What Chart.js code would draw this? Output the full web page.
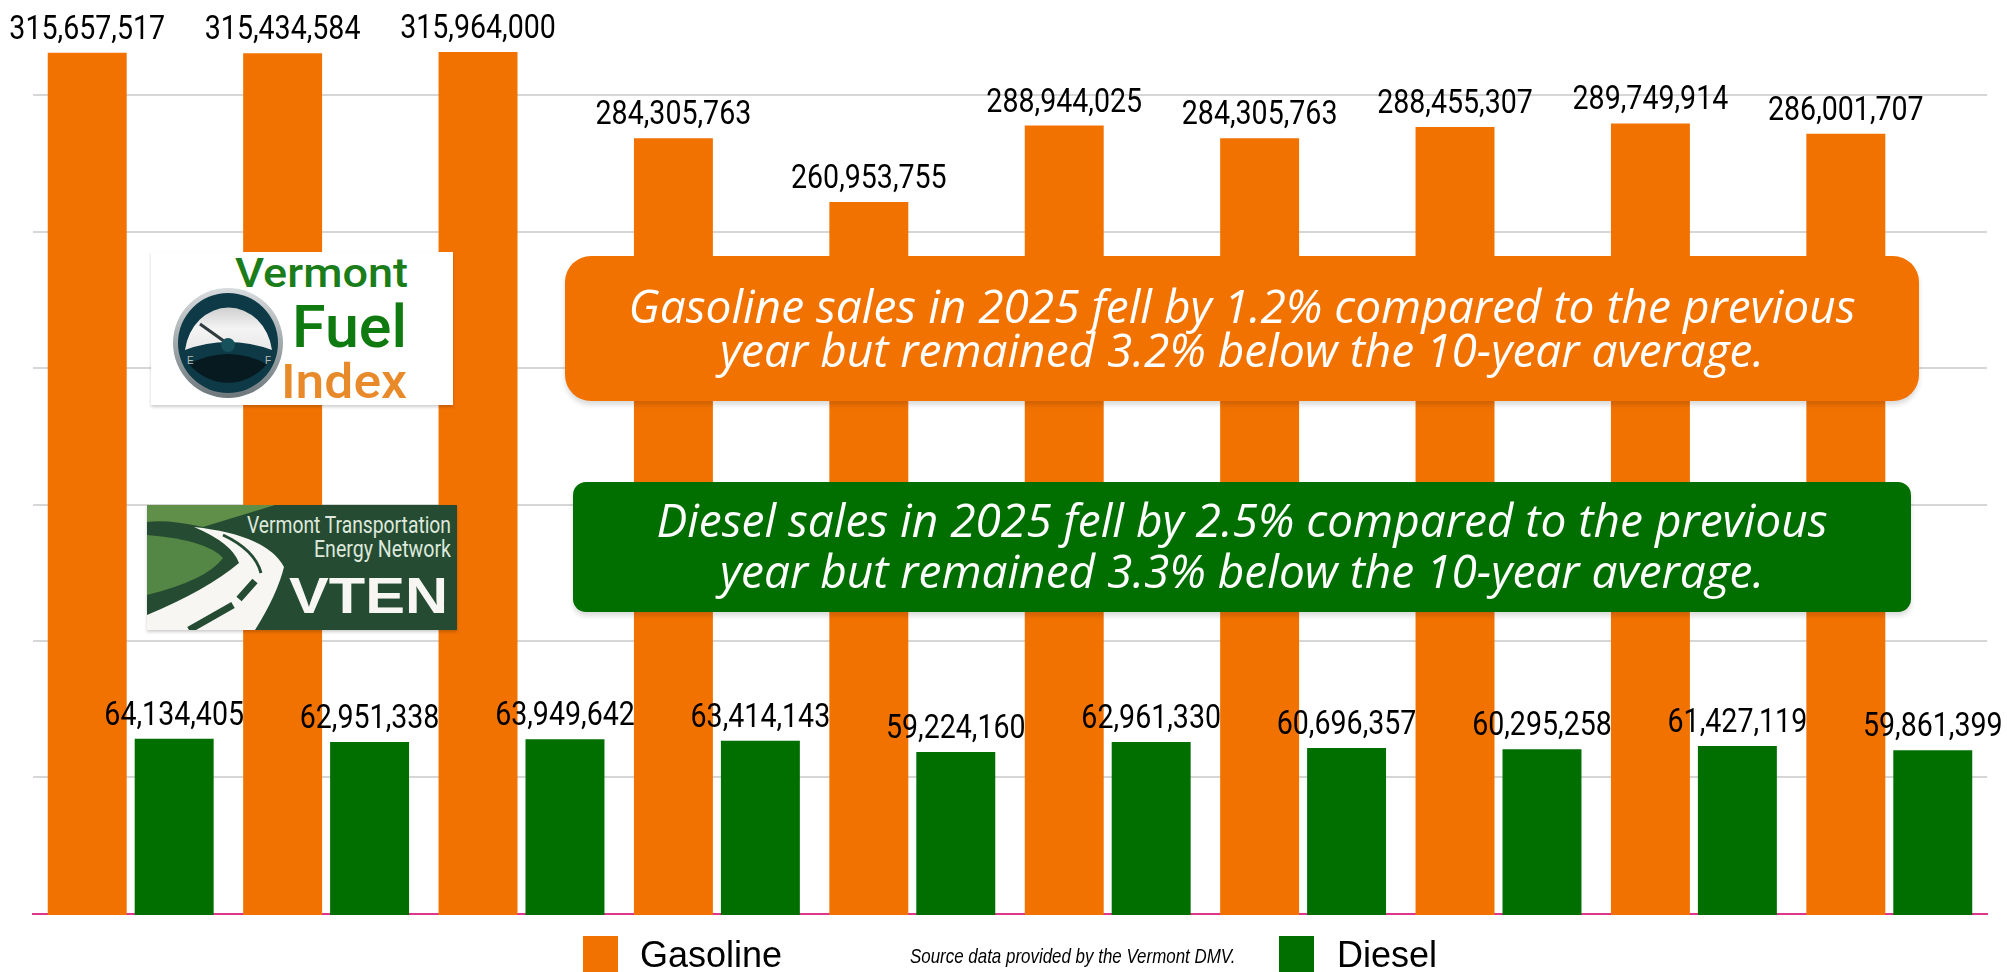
<!DOCTYPE html>
<html><head><meta charset="utf-8">
<script src="https://cdn.jsdelivr.net/npm/chart.js@4"></script>
<style>
html,body{margin:0;padding:0;background:#fff;overflow:hidden}
#wrap{position:relative;width:2007px;height:972px;overflow:hidden}
canvas{position:absolute;left:0;top:0}
.box{position:absolute;color:#fff;font-family:"Open Sans",sans-serif;font-style:italic;text-align:center;white-space:nowrap;box-shadow:0 4px 5px rgba(0,0,0,.14)}
.box span{position:absolute;left:0;right:0;display:block;line-height:1}
.logo{position:absolute;box-shadow:0 2px 3px rgba(0,0,0,.2)}
</style></head><body>
<div id="wrap"><canvas id="c" width="2007" height="972"></canvas>
<div class="box" style="left:565px;top:256px;width:1354px;height:145px;background:#f27200;border-radius:26px;font-size:46px">
<span style="top:26px">Gasoline sales in 2025 fell by 1.2% compared to the previous</span>
<span style="top:70px">year but remained 3.2% below the 10-year average.</span></div>
<div class="box" style="left:573px;top:482px;width:1338px;height:130px;background:#006f00;border-radius:13px;font-size:46px">
<span style="top:14px">Diesel sales in 2025 fell by 2.5% compared to the previous</span>
<span style="top:65px">year but remained 3.3% below the 10-year average.</span></div>

<svg class="logo" style="left:151px;top:252px" width="302" height="153" viewBox="0 0 302 153">
<defs>
<linearGradient id="dial" x1="0" y1="0" x2="0" y2="1"><stop offset="0" stop-color="#cfcfcf"/><stop offset=".5" stop-color="#f4f4f4"/><stop offset="1" stop-color="#e8e8e8"/></linearGradient>
<linearGradient id="rim" x1="0" y1="0" x2="0" y2="1"><stop offset="0" stop-color="#d8dcde"/><stop offset="1" stop-color="#6d777b"/></linearGradient>
</defs>
<rect width="302" height="153" fill="#fff"/>
<text x="84" y="35" font-family="Roboto" font-weight="500" font-size="41" fill="#1a7d1a" textLength="173" lengthAdjust="spacingAndGlyphs">Vermont</text>
<text x="141" y="95" font-family="Roboto" font-weight="500" font-size="60" fill="#0f7a10" textLength="115" lengthAdjust="spacingAndGlyphs">Fuel</text>
<text x="130" y="146" font-family="Roboto" font-weight="500" font-size="48" fill="#e8892a" textLength="126" lengthAdjust="spacingAndGlyphs">Index</text>
<circle cx="77" cy="91" r="55" fill="url(#rim)"/>
<circle cx="77" cy="91" r="50" fill="#0d3a46"/>
<path d="M34 98 A44 50 0 0 1 121 98 Q77 82 34 98Z" fill="url(#dial)"/>
<path d="M38 112 Q77 92 116 112 A50 50 0 0 1 38 112Z" fill="#061a20"/>
<line x1="49" y1="72" x2="77" y2="92" stroke="#2f3a3e" stroke-width="3"/>
<circle cx="77" cy="93" r="7" fill="#17515c"/>
<text x="36" y="112" font-family="Liberation Sans" font-size="10" fill="#bbb">E</text>
<text x="114" y="112" font-family="Liberation Sans" font-size="10" fill="#bbb">F</text>
</svg>

<svg class="logo" style="left:147px;top:505px" width="310" height="125" viewBox="0 0 310 125">
<rect width="310" height="125" fill="#254c32"/>
<path d="M0 0H128L56 22 Q20 14 0 17Z" fill="#5f8f48"/>
<path d="M0 30 Q60 35 76 53 Q60 75 0 90Z" fill="#548645"/>
<path d="M47 22 Q120 30 137 62 Q130 90 108 125 H0 V110 Q60 85 92 58 Q85 38 47 22Z" fill="#f7f6f2"/>
<path d="M76 30 Q108 45 114 68" stroke="#254c32" stroke-width="3" fill="none"/>
<path d="M108 76 L92 94 M86 100 L42 125" stroke="#254c32" stroke-width="7" fill="none"/>
<text x="304" y="28" text-anchor="end" font-family="Roboto" font-size="24" fill="#dfe8dc" textLength="204" lengthAdjust="spacingAndGlyphs">Vermont Transportation</text>
<text x="304" y="52" text-anchor="end" font-family="Roboto" font-size="24" fill="#dfe8dc" textLength="137" lengthAdjust="spacingAndGlyphs">Energy Network</text>
<text x="142" y="108" font-family="Liberation Sans" font-weight="700" font-size="50" fill="#f7f6f2" textLength="159" lengthAdjust="spacingAndGlyphs">VTEN</text>
</svg>
</div>
<script>
const categories = ["2016","2017","2018","2019","2020","2021","2022","2023","2024","2025"];
const gasoline = [315657517,315434584,315964000,284305763,260953755,288944025,284305763,288455307,289749914,286001707];
const diesel = [64134405,62951338,63949642,63414143,59224160,62961330,60696357,60295258,61427119,59861399];
const gridValues = [50000000,100000000,150000000,200000000,250000000,300000000];
const seriesNames = ["Gasoline","Diesel"];
const seriesColors = ["#f27200","#006f00"];
const sourceNote = "Source data provided by the Vermont DMV.";

const valueLabels = {
  id:'valueLabels',
  afterDatasetsDraw(chart){
    const ctx = chart.ctx;
    chart.data.datasets.forEach((ds,i)=>{
      chart.getDatasetMeta(i).data.forEach((bar,j)=>{
        ctx.save();
        ctx.fillStyle = '#000';
        ctx.font = '34px Roboto, sans-serif';
        ctx.textAlign = 'center';
        ctx.textBaseline = 'alphabetic';
        ctx.translate(bar.x, bar.y-14);
        ctx.scale(.84,1);
        ctx.fillText(ds.data[j].toLocaleString('en-US'), 0, 0);
        ctx.restore();
      });
    });
  }
};
const footer = {
  id:'footer',
  afterDraw(chart){
    const ctx = chart.ctx;
    ctx.save();
    ctx.textBaseline='alphabetic';
    const items=[[583,640],[1279,1337]];
    items.forEach((it,i)=>{
      ctx.fillStyle = seriesColors[i];
      ctx.fillRect(it[0],936,35,36);
      ctx.fillStyle='#000';
      ctx.font='36px "Liberation Sans", sans-serif';
      ctx.fillText(seriesNames[i],it[1],967);
    });
    ctx.translate(910,963);
    ctx.scale(.806,1);
    ctx.font='italic 21px "Liberation Sans", sans-serif';
    ctx.fillText(sourceNote,0,0);
    ctx.restore();
  }
};
new Chart(document.getElementById('c'),{
  type:'bar',
  data:{labels:categories,datasets:[
    {label:seriesNames[0],data:gasoline,backgroundColor:seriesColors[0],base:-500000,clip:false},
    {label:seriesNames[1],data:diesel,backgroundColor:seriesColors[1],base:-500000,clip:false}
  ]},
  options:{
    responsive:false,animation:false,
    layout:{padding:{left:33,right:20,top:0,bottom:58.4}},
    datasets:{bar:{categoryPercentage:.89,barPercentage:.908}},
    plugins:{legend:{display:false},tooltip:{enabled:false}},
    scales:{
      x:{ticks:{display:false},grid:{display:false,drawTicks:false},border:{display:true,color:'#e0358f',width:2}},
      y:{min:0,max:335000000,ticks:{display:false},
         afterBuildTicks(axis){axis.ticks=gridValues.map(v=>({value:v}));},
         grid:{drawTicks:false,lineWidth:2,color:'#d6d6d6'},border:{display:false}}
    }
  },
  plugins:[valueLabels,footer]
});
</script></body></html>
